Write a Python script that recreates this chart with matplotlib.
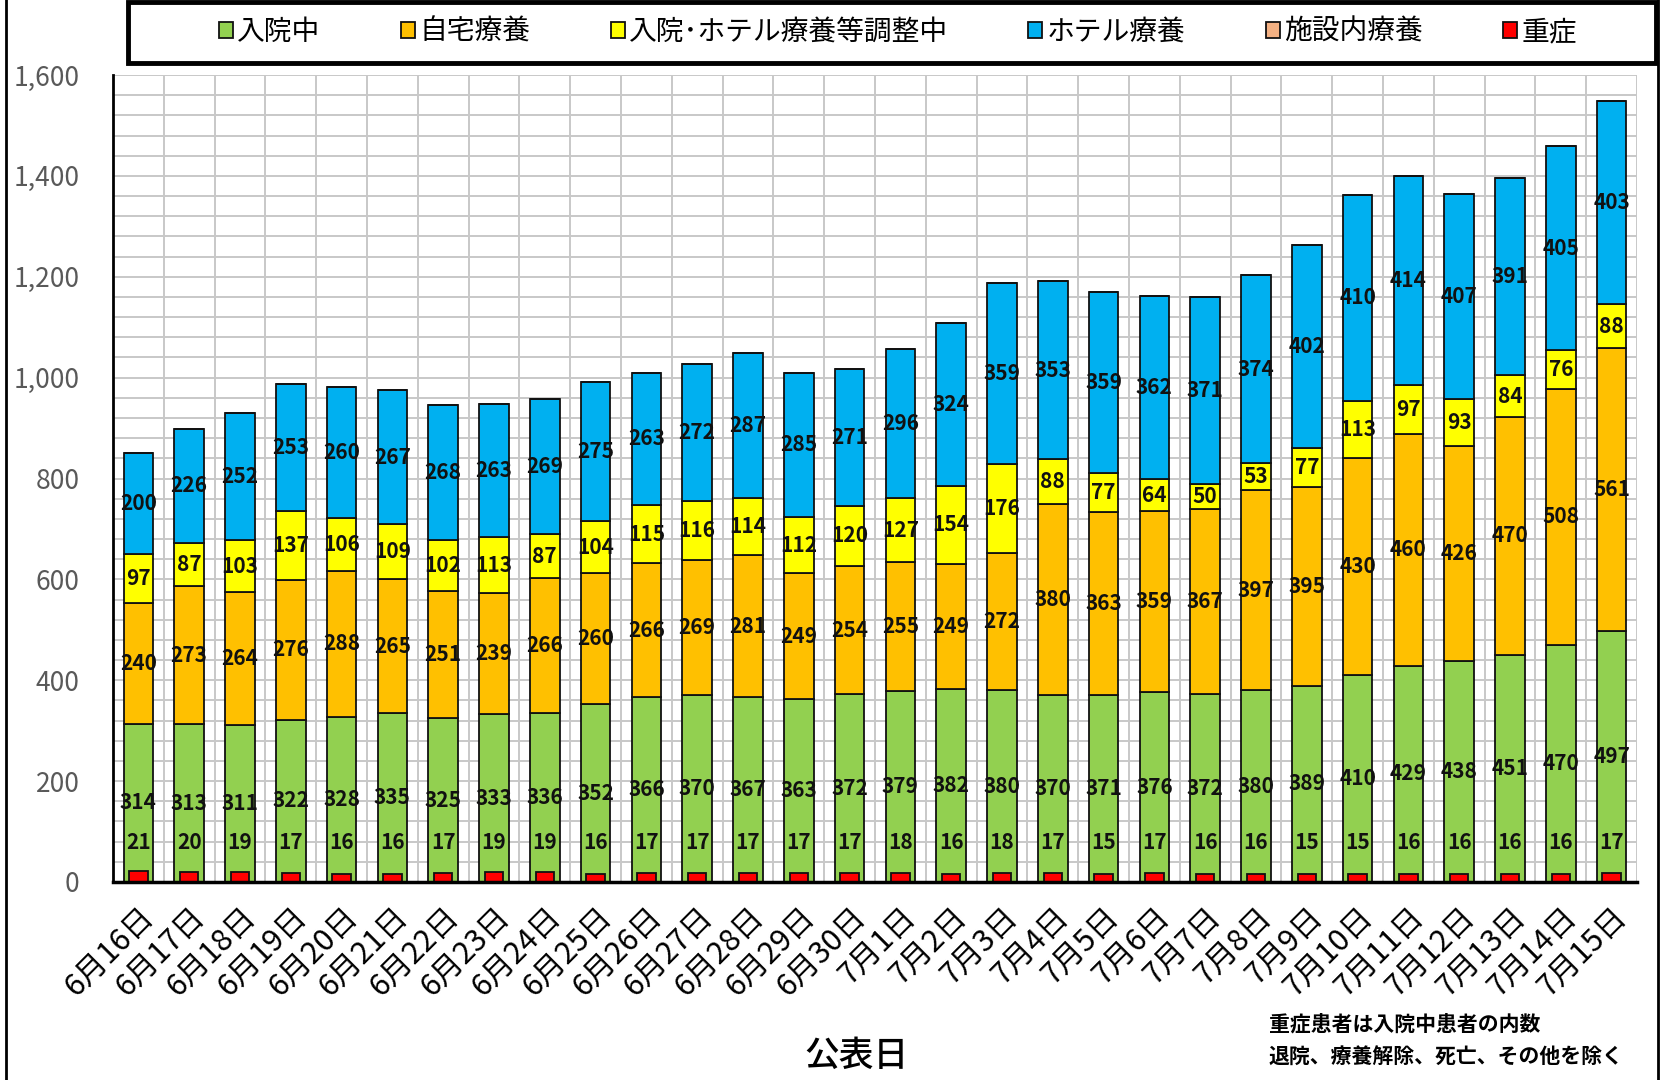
import matplotlib.pyplot as plt
import numpy as np
from matplotlib.patches import Rectangle
from matplotlib.lines import Line2D

plt.rcParams["font.family"] = ["Noto Sans CJK JP", "DejaVu Sans"]

dates = [
    "6月16日", "6月17日", "6月18日", "6月19日", "6月20日", "6月21日", "6月22日", "6月23日",
    "6月24日", "6月25日", "6月26日", "6月27日", "6月28日", "6月29日", "6月30日",
    "7月1日", "7月2日", "7月3日", "7月4日", "7月5日", "7月6日", "7月7日", "7月8日",
    "7月9日", "7月10日", "7月11日", "7月12日", "7月13日", "7月14日", "7月15日",
]
hospitalized = [314, 313, 311, 322, 328, 335, 325, 333, 336, 352, 366, 370, 367, 363, 372,
                379, 382, 380, 370, 371, 376, 372, 380, 389, 410, 429, 438, 451, 470, 497]
home_care = [240, 273, 264, 276, 288, 265, 251, 239, 266, 260, 266, 269, 281, 249, 254,
             255, 249, 272, 380, 363, 359, 367, 397, 395, 430, 460, 426, 470, 508, 561]
adjusting = [97, 87, 103, 137, 106, 109, 102, 113, 87, 104, 115, 116, 114, 112, 120,
             127, 154, 176, 88, 77, 64, 50, 53, 77, 113, 97, 93, 84, 76, 88]
hotel = [200, 226, 252, 253, 260, 267, 268, 263, 269, 275, 263, 272, 287, 285, 271,
         296, 324, 359, 353, 359, 362, 371, 374, 402, 410, 414, 407, 391, 405, 403]
facility = [0] * 30
severe = [21, 20, 19, 17, 16, 16, 17, 19, 19, 16, 17, 17, 17, 17, 17,
          18, 16, 18, 17, 15, 17, 16, 16, 15, 15, 16, 16, 16, 16, 17]

series_names = ["入院中", "自宅療養", "入院･ホテル療養等調整中", "ホテル療養", "施設内療養", "重症"]
colors = ["#92D050", "#FFC000", "#FFFF00", "#00B0F0", "#F4B183", "#FF0000"]

W, H = 1662, 1080
fig = plt.figure(figsize=(W / 100, H / 100), dpi=100)
ax = fig.add_axes([113 / W, (H - 882) / H, 1524 / W, 807 / H])

x = np.arange(len(dates))
bw = 0.58
stack = [hospitalized, home_care, adjusting, hotel, facility]
bottom = np.zeros(len(dates))
containers = []
for vals, col in zip(stack, colors[:5]):
    c = ax.bar(x, vals, bw, bottom=bottom, color=col, edgecolor="#111111", linewidth=1.3, zorder=3)
    containers.append(c)
    bottom = bottom + np.array(vals)
sev = ax.bar(x, severe, 0.36, color=colors[5], edgecolor="#111111", linewidth=1.3, zorder=4)
containers.append(sev)

label_font = dict(fontsize=15, fontweight="bold", color="#111111")
for c in containers[:4]:
    ax.bar_label(c, label_type="center", zorder=5, **label_font)
for xi, v in zip(x, severe):
    ax.text(xi, 78, str(v), ha="center", va="center", zorder=5, **label_font)

ax.set_xlim(-0.5, len(dates) - 0.5)
ax.set_ylim(0, 1600)
ax.set_yticks(np.arange(0, 1601, 200))
ax.set_yticks(np.arange(0, 1601, 40), minor=True)
ax.set_yticklabels([f"{v:,}" for v in range(0, 1601, 200)], fontsize=19, color="#595959")
ax.set_xticks(x)
ax.set_xticks(np.arange(-0.5, len(dates), 1.0), minor=True)
ax.set_xticklabels(dates, rotation=45, ha="right", va="top", rotation_mode="anchor", fontsize=22)
ax.tick_params(axis="both", which="both", length=0)
ax.tick_params(axis="y", pad=24)
ax.tick_params(axis="x", pad=14)
ax.grid(which="minor", color="#c8c8c8", linewidth=1.4, zorder=0)
ax.grid(which="major", axis="y", color="#c8c8c8", linewidth=1.4, zorder=0)
for s in ["top", "right"]:
    ax.spines[s].set_visible(False)
ax.spines["left"].set_linewidth(2)
ax.spines["bottom"].set_linewidth(2.5)
ax.spines["left"].set_zorder(6)
ax.spines["bottom"].set_zorder(6)

fig.text(856 / W, 1 - 1056 / H, "公表日", fontsize=25, fontweight="medium", ha="center", va="center")

# legend box
fig.patches.append(Rectangle((128 / W, (H - 63) / H), 1528 / W, 61 / H, transform=fig.transFigure,
                             fill=False, edgecolor="black", linewidth=3.5))
fig.legend(containers, series_names, loc="center", bbox_to_anchor=(898 / W, 1 - 32 / H), ncol=6,
           frameon=False, fontsize=20, handlelength=0.5, handleheight=0.5, handletextpad=0.15,
           columnspacing=2.9)

# outer frame lines
fig.add_artist(Line2D([6 / W, 6 / W], [0, 1], color="black", linewidth=2, transform=fig.transFigure))
fig.add_artist(Line2D([1658 / W, 1658 / W], [0, 1], color="black", linewidth=2, transform=fig.transFigure))

fig.text(1269 / W, 1 - 1024 / H, "重症患者は入院中患者の内数", fontsize=15, fontweight="bold",
         ha="left", va="center")
fig.text(1269 / W, 1 - 1057 / H, "退院、療養解除、死亡、その他を除く", fontsize=15, fontweight="bold",
         ha="left", va="center")

fig.savefig("out.png", dpi=100)
